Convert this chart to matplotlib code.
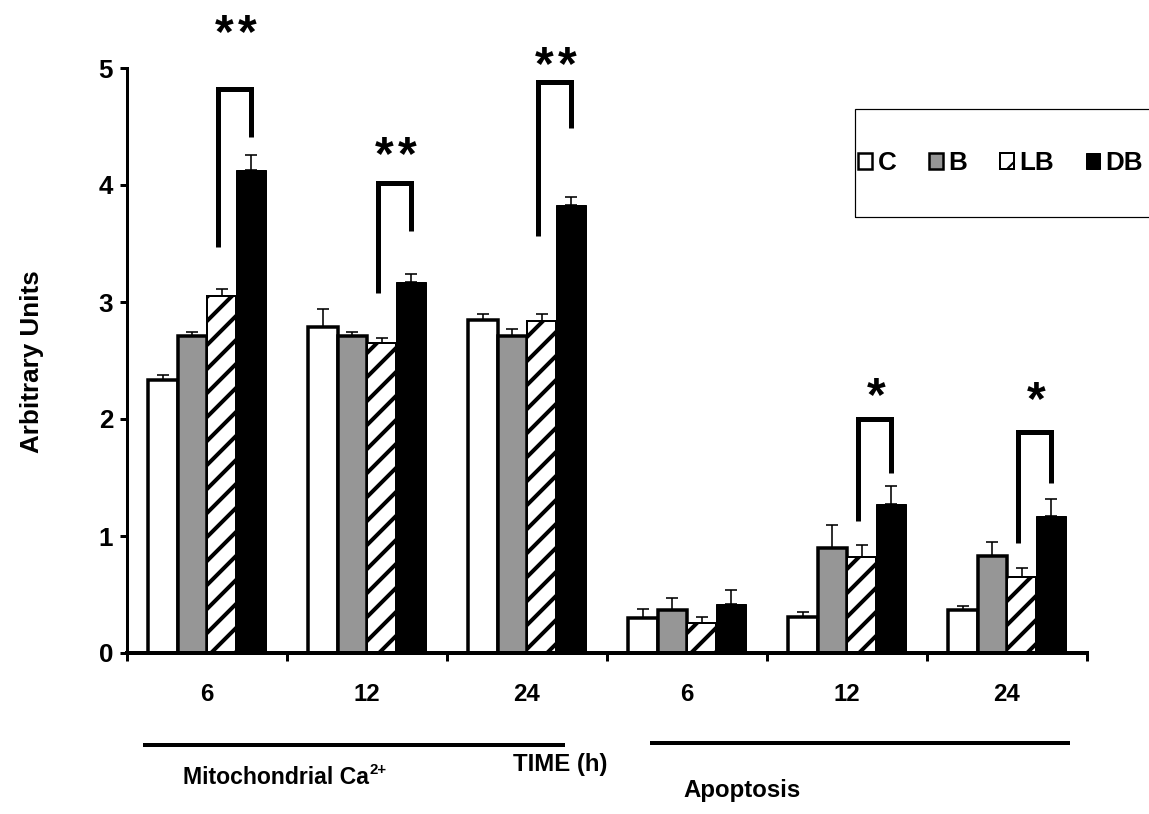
import matplotlib
matplotlib.use("Agg")
import matplotlib.pyplot as plt
import numpy as np
from matplotlib import font_manager
from matplotlib.patches import Patch, Rectangle

# ---------------- data ----------------
times = ["6", "12", "24", "6", "12", "24"]
series = ["C", "B", "LB", "DB"]

C_vals = [2.33, 2.79, 2.85, 0.30, 0.31, 0.37]
C_err = [0.05, 0.15, 0.05, 0.08, 0.04, 0.03]
B_vals = [2.71, 2.71, 2.71, 0.37, 0.90, 0.83]
B_err = [0.03, 0.03, 0.06, 0.10, 0.19, 0.12]
LB_vals = [3.05, 2.65, 2.84, 0.26, 0.82, 0.65]
LB_err = [0.06, 0.04, 0.06, 0.05, 0.10, 0.08]
DB_vals = [4.13, 3.17, 3.83, 0.42, 1.27, 1.17]
DB_err = [0.13, 0.07, 0.07, 0.12, 0.16, 0.15]

# significance brackets (group index, label, y-levels)
sig_groups = [0, 1, 2, 4, 5]
sig_labels = ["**", "**", "**", "*", "*"]
bracket_top = [4.82, 4.02, 4.88, 2.00, 1.89]
bracket_left_bottom = [3.47, 3.08, 3.56, 1.13, 0.94]
bracket_right_bottom = [4.41, 3.61, 4.49, 1.54, 1.45]
star_y = [5.38, 4.34, 5.11, 2.28, 2.24]

group_names = ["Mitochondrial Ca", "Apoptosis"]
ca_charge = "2+"
axis_title = "TIME (h)"
ylabel = "Arbitrary Units"
yticks = [0, 1, 2, 3, 4, 5]

# ---------------- fonts ----------------
names = {f.name for f in font_manager.fontManager.ttflist}
BASE = "Liberation Sans"
NARROW = "Liberation Sans Narrow" in names
LBL = "Liberation Sans Narrow" if NARROW else BASE

plt.rcParams["font.family"] = [BASE, "DejaVu Sans"]
plt.rcParams["font.weight"] = "bold"
plt.rcParams["hatch.linewidth"] = 4.0

W, H, DPI = 1149, 814, 72
fig = plt.figure(figsize=(W / DPI, H / DPI), dpi=DPI)
ax = fig.add_axes([127 / W, 1 - 653 / H, (1087 - 127) / W, (653 - 68) / H])

x = np.arange(len(times))
bw = 0.183
offsets = [-1.5 * bw, -0.5 * bw, 0.5 * bw, 1.5 * bw]
styles = [
    dict(facecolor="white", edgecolor="black", linewidth=3.5),
    dict(facecolor="#969696", edgecolor="black", linewidth=3.5),
    dict(facecolor="white", edgecolor="black", linewidth=2.0, hatch="/"),
    dict(facecolor="black", edgecolor="black", linewidth=1.0),
]
vals = [C_vals, B_vals, LB_vals, DB_vals]
errs = [C_err, B_err, LB_err, DB_err]

for off, v, e, st in zip(offsets, vals, errs, styles):
    ax.bar(x + off, v, width=bw, zorder=2, **st)
    ax.errorbar(x + off, v, yerr=[np.zeros(len(v)), e], fmt="none",
                ecolor="black", elinewidth=1.6, capsize=6, capthick=1.6,
                zorder=3)

# significance brackets
for g, lab, top, lb, rb, sy in zip(sig_groups, sig_labels, bracket_top,
                                   bracket_left_bottom, bracket_right_bottom,
                                   star_y):
    lx = g + offsets[2] - 0.025
    rx = g + offsets[3]
    ax.plot([lx, lx, rx, rx], [lb, top, top, rb], color="black", lw=5,
            solid_joinstyle="miter", solid_capstyle="butt", clip_on=False,
            zorder=4)
    n = len(lab)
    for k in range(n):
        dx = (k - (n - 1) / 2) * 23
        ax.annotate(lab[k], xy=((lx + rx) / 2 + 0.01, sy), xytext=(dx, -11),
                    textcoords="offset points", ha="center", va="center",
                    fontsize=48, fontweight="bold", annotation_clip=False)

# axes styling
ax.set_xlim(-0.5, 5.5)
ax.set_ylim(0, 5)
for s in ["top", "right"]:
    ax.spines[s].set_visible(False)
ax.spines["left"].set_linewidth(3)
ax.spines["bottom"].set_linewidth(4)

ax.set_yticks(yticks)
ax.set_yticklabels([str(t) for t in yticks], fontsize=26, fontweight="bold")
ax.tick_params(axis="y", direction="out", length=7, width=3, pad=7)

ax.set_xticks(np.arange(-0.5, len(times)))
ax.set_xticklabels([])
ax.tick_params(axis="x", which="major", direction="out", length=8, width=3)
ax.set_xticks(x, minor=True)
ax.set_xticklabels(times, minor=True, fontsize=24, fontweight="bold",
                   family=LBL)
ax.tick_params(axis="x", which="minor", length=0, pad=30)

fig.text(32 / W, 1 - 362 / H, ylabel, rotation=90, ha="center",
         va="center", fontsize=26, fontweight="bold", family=LBL)

# group underlines
ax.plot([-0.39, 2.225], [-0.786, -0.786], color="black", lw=4,
        clip_on=False)
ax.plot([2.78, 5.38], [-0.77, -0.77], color="black", lw=4, clip_on=False)

t_mito = fig.text(276 / W, 1 - 778 / H, group_names[0], ha="center",
                  va="center", fontsize=23, fontweight="bold", family=LBL)
ax.annotate(ca_charge, xy=(1.0, 0.55), xycoords=t_mito, xytext=(1, 0),
            textcoords="offset points", ha="left", va="bottom",
            fontsize=15, fontweight="bold", family=LBL,
            annotation_clip=False)

fig.text(560 / W, 1 - 765 / H, axis_title, ha="center", va="center",
         fontsize=24, fontweight="bold", family=LBL)
fig.text(742 / W, 1 - 790 / H, group_names[1], ha="center", va="center",
         fontsize=24, fontweight="bold", family=LBL)

# legend
fig.add_artist(Rectangle((855 / W, 1 - 217 / H), (1250 - 855) / W,
                         108 / H, transform=fig.transFigure, fill=False,
                         edgecolor="black", linewidth=1.2))
plt.rcParams["hatch.linewidth"] = 2.0
handles = [Patch(**{**st, "linewidth": min(st["linewidth"], 2.5)})
           for st in styles]
for h in handles:
    if hasattr(h, "set_hatch_linewidth"):
        h.set_hatch_linewidth(2.0)
leg = ax.legend(handles, series, ncol=4, loc="center left",
                bbox_to_anchor=(858 / W, 1 - 163 / H),
                bbox_transform=fig.transFigure, fontsize=26,
                handlelength=0.55, handleheight=0.55, handletextpad=0.2,
                columnspacing=1.25, borderpad=0, borderaxespad=0,
                frameon=False)
for t in leg.get_texts():
    t.set_fontweight("bold")
for p in leg.get_patches():
    if hasattr(p, "set_hatch_linewidth"):
        p.set_hatch_linewidth(2.0)

fig.savefig("out.png", dpi=DPI)
